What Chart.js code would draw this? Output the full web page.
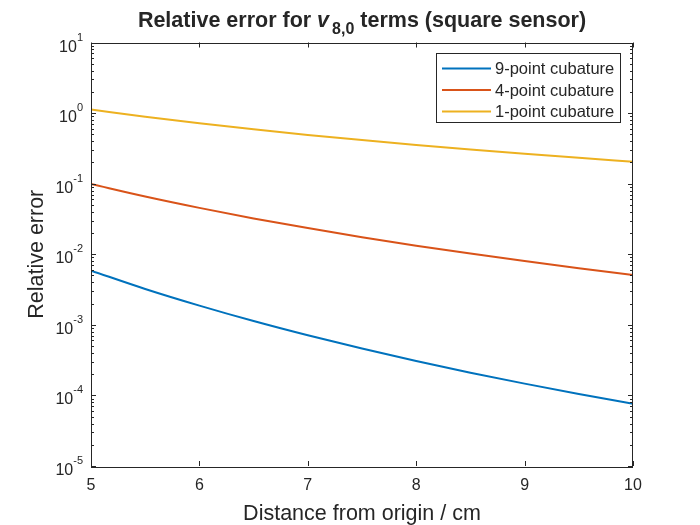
<!DOCTYPE html>
<html>
<head>
<meta charset="utf-8">
<script src="https://cdn.jsdelivr.net/npm/chart.js@4.4.1/dist/chart.umd.min.js"></script>
<style>
html,body{margin:0;padding:0;background:#fff;}
#wrap{width:700px;height:525px;}
</style>
</head>
<body>
<div id="wrap"><canvas id="c" width="700" height="525"></canvas></div>
<script>
// ---- data ----
const distances = [5, 5.5, 6, 6.5, 7, 7.5, 8, 8.5, 9, 9.5, 10];
const err9 = [0.00586, 0.00322, 0.00187, 0.00113, 0.00071, 0.000461, 0.000308, 0.00021, 0.000147, 0.000105, 0.000076];
const err4 = [0.099, 0.0658, 0.0454, 0.0322, 0.0235, 0.01745, 0.01324, 0.01022, 0.0080, 0.00635, 0.0051];
const err1 = [1.12, 0.887, 0.717, 0.589, 0.491, 0.415, 0.354, 0.305, 0.265, 0.232, 0.205];
const seriesLabels = ['9-point cubature', '4-point cubature', '1-point cubature'];
const seriesColors = ['#0072BD', '#D95319', '#EDB120'];
const xTicks = [5, 6, 7, 8, 9, 10];
const yExponents = [-5, -4, -3, -2, -1, 0, 1];
const titleParts = ['Relative error for ', 'v', '8,0', ' terms (square sensor)'];
const xTitle = 'Distance from origin / cm';
const yTitle = 'Relative error';

const INK = '#262626';
const FONT = '"Liberation Sans", Arial, Helvetica, sans-serif';

function pts(ys) { return distances.map((x, i) => ({x: x, y: ys[i]})); }

const matlabAxes = {
  id: 'matlabAxes',
  afterDraw(chart) {
    const ctx = chart.ctx;
    const a = chart.chartArea;
    const xs = chart.scales.x, ys = chart.scales.y;
    ctx.save();
    // box
    ctx.strokeStyle = INK;
    ctx.lineWidth = 1;
    ctx.strokeRect(Math.round(a.left) + 0.5, Math.round(a.top) + 0.5,
                   Math.round(a.right - a.left) - 1, Math.round(a.bottom - a.top));
    // x ticks
    ctx.beginPath();
    xTicks.forEach(v => {
      const px = Math.round(xs.getPixelForValue(v)) + 0.5;
      ctx.moveTo(px, a.bottom); ctx.lineTo(px, a.bottom - 5);
      ctx.moveTo(px, a.top); ctx.lineTo(px, a.top + 5);
    });
    // y ticks major + minor
    yExponents.forEach((e, idx) => {
      const py = Math.round(ys.getPixelForValue(Math.pow(10, e))) + 0.5;
      ctx.moveTo(a.left, py); ctx.lineTo(a.left + 5, py);
      ctx.moveTo(a.right, py); ctx.lineTo(a.right - 5, py);
      if (idx < yExponents.length - 1) {
        for (let m = 2; m <= 9; m++) {
          const pm = Math.round(ys.getPixelForValue(m * Math.pow(10, e))) + 0.5;
          ctx.moveTo(a.left, pm); ctx.lineTo(a.left + 3, pm);
          ctx.moveTo(a.right, pm); ctx.lineTo(a.right - 3, pm);
        }
      }
    });
    ctx.stroke();

    ctx.fillStyle = INK;
    // x tick labels
    ctx.font = '16px ' + FONT;
    ctx.textAlign = 'center';
    ctx.textBaseline = 'alphabetic';
    xTicks.forEach(v => {
      ctx.fillText(String(v), xs.getPixelForValue(v), 490);
    });
    // y tick labels 10^e
    yExponents.forEach(e => {
      const py = ys.getPixelForValue(Math.pow(10, e));
      const expStr = e < 0 ? '-' + Math.abs(e) : String(e);
      ctx.font = '11px ' + FONT;
      const ew = ctx.measureText(expStr).width;
      const right = a.left - 8;
      ctx.textAlign = 'right';
      ctx.fillText(expStr, right, py - 2);
      ctx.font = '16px ' + FONT;
      ctx.fillText('10', right - ew, py + 9);
    });
    // axis titles
    ctx.font = '21.5px ' + FONT;
    ctx.textAlign = 'center';
    ctx.fillText(xTitle, (a.left + a.right) / 2, 520);
    ctx.save();
    ctx.translate(43, (a.top + a.bottom) / 2);
    ctx.rotate(-Math.PI / 2);
    ctx.fillText(yTitle, 0, 0);
    ctx.restore();

    // title with italic v and subscript
    const fMain = 'bold 21.5px ' + FONT;
    const fItal = 'italic bold 21.5px ' + FONT;
    const fSub = 'bold 16px ' + FONT;
    ctx.textAlign = 'left';
    ctx.font = fMain; const w0 = ctx.measureText(titleParts[0]).width;
    ctx.font = fItal; const w1 = ctx.measureText(titleParts[1]).width;
    ctx.font = fSub; const w2 = ctx.measureText(titleParts[2]).width;
    ctx.font = fMain; const w3 = ctx.measureText(titleParts[3]).width;
    const total = w0 + w1 + 3 + w2 + w3;
    let tx = (a.left + a.right) / 2 - total / 2;
    const tb = 27;
    ctx.font = fMain; ctx.fillText(titleParts[0], tx, tb); tx += w0;
    ctx.font = fItal; ctx.fillText(titleParts[1], tx, tb); tx += w1 + 3;
    ctx.font = fSub; ctx.fillText(titleParts[2], tx, tb + 7); tx += w2;
    ctx.font = fMain; ctx.fillText(titleParts[3], tx, tb);

    // legend
    const lx = 436.5, ly = 53.5, lw = 184, lh = 69;
    ctx.fillStyle = '#ffffff';
    ctx.fillRect(lx, ly, lw, lh);
    ctx.strokeStyle = INK;
    ctx.lineWidth = 1;
    ctx.strokeRect(lx, ly, lw, lh);
    const rows = [68.5, 90, 111.5];
    ctx.font = '16.5px ' + FONT;
    ctx.textBaseline = 'middle';
    chart.data.datasets.forEach((ds, i) => {
      ctx.strokeStyle = ds.borderColor;
      ctx.lineWidth = 2;
      ctx.beginPath();
      ctx.moveTo(442, rows[i]); ctx.lineTo(491, rows[i]);
      ctx.stroke();
      ctx.fillStyle = INK;
      ctx.fillText(ds.label, 495, rows[i] + 1);
    });
    ctx.restore();
  }
};

new Chart(document.getElementById('c'), {
  type: 'line',
  data: {
    datasets: [
      {label: seriesLabels[0], data: pts(err9), borderColor: seriesColors[0]},
      {label: seriesLabels[1], data: pts(err4), borderColor: seriesColors[1]},
      {label: seriesLabels[2], data: pts(err1), borderColor: seriesColors[2]}
    ].map(d => Object.assign(d, {borderWidth: 2, pointRadius: 0, fill: false, cubicInterpolationMode: 'monotone'}))
  },
  options: {
    responsive: false,
    animation: false,
    devicePixelRatio: 1,
    layout: {padding: {left: 91, right: 67, top: 42.5, bottom: 59}},
    plugins: {legend: {display: false}, title: {display: false}, tooltip: {enabled: false}},
    scales: {
      x: {type: 'linear', min: 5, max: 10, display: false},
      y: {type: 'logarithmic', min: 1e-5, max: 10, display: false}
    }
  },
  plugins: [matlabAxes]
});
</script>
</body>
</html>
